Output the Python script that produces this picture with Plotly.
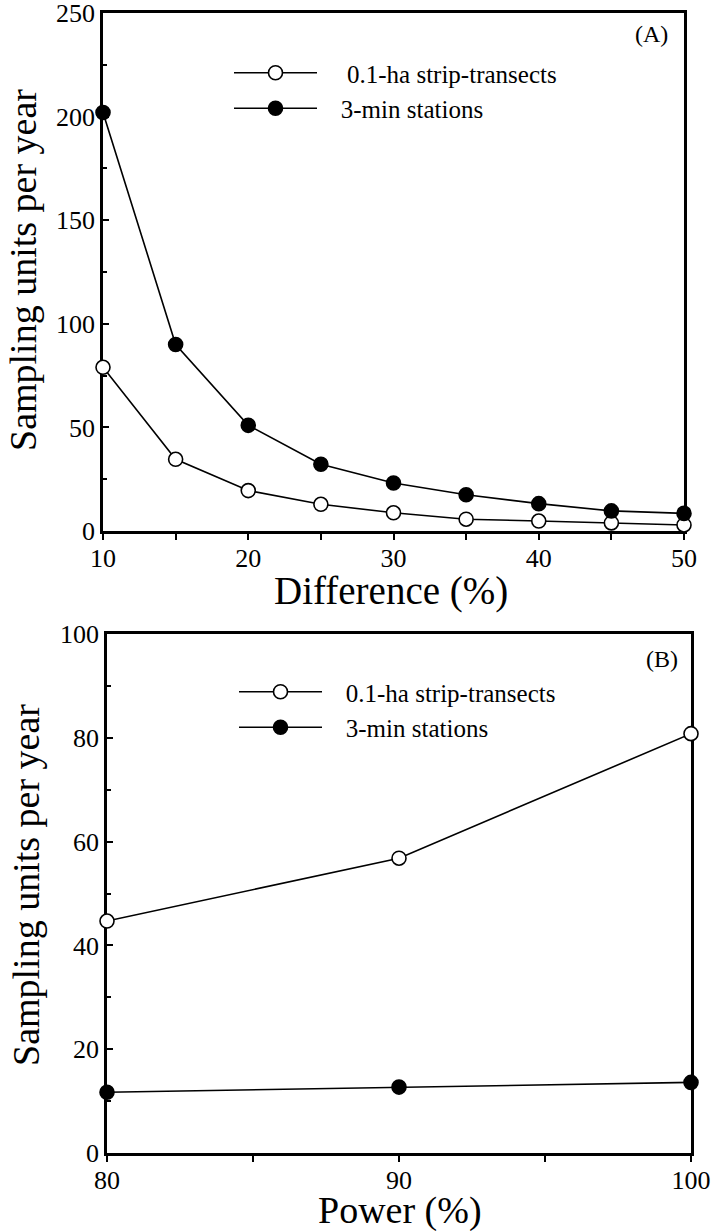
import plotly.graph_objects as go

# Panel A data
diff_pct = [10, 15, 20, 25, 30, 35, 40, 45, 50]
strip_A = [79, 34.6, 19.5, 12.9, 8.8, 5.7, 4.8, 3.9, 2.9]
station_A = [202, 90, 51, 32.2, 23.2, 17.5, 13.2, 9.7, 8.5]

# Panel B data
power_pct = [80, 90, 100]
strip_B = [44.7, 56.8, 80.8]
station_B = [11.7, 12.7, 13.6]

NB = "\u00a0"
name_strip_A = NB * 4 + "0.1-ha strip-transects"
name_station_A = NB * 3 + "3-min stations"
name_strip_B = NB * 3 + "0.1-ha strip-transects"
name_station_B = NB * 3 + "3-min stations"

FONT = "Liberation Serif, Times New Roman, Times, serif"
W, H = 712, 1231

fig = go.Figure()

def add_series(x, y, name, filled, xa, ya, legend):
    fig.add_trace(go.Scatter(
        x=x, y=y, mode="lines+markers", name=name,
        xaxis=xa, yaxis=ya, legend=legend, cliponaxis=False,
        line=dict(color="black", width=1.6),
        marker=dict(size=14, symbol="circle",
                    color="black" if filled else "white",
                    line=dict(color="black", width=1.6)),
    ))

add_series(diff_pct, strip_A, name_strip_A, False, "x", "y", "legend")
add_series(diff_pct, station_A, name_station_A, True, "x", "y", "legend")
add_series(power_pct, strip_B, name_strip_B, False, "x2", "y2", "legend2")
add_series(power_pct, station_B, name_station_B, True, "x2", "y2", "legend2")

def px_x(v):
    return v / W

def px_y(v):
    return 1 - v / H

axis_common = dict(showline=True, linecolor="black", linewidth=2.5, mirror=True,
                   showgrid=False, zeroline=False, layer="below traces",
                   automargin=False, ticklabeloverflow="allow",
                   tickfont=dict(family=FONT, size=26, color="black"),
                   tickcolor="black", tickwidth=1.6)

xtick_extra = dict(ticklabelstandoff=-4)

fig.update_layout(
    template="none",
    width=W, height=H, margin=dict(l=0, r=0, t=0, b=0, pad=0),
    autosize=False,
    paper_bgcolor="white", plot_bgcolor="white",
    font=dict(family=FONT, color="black"),
    showlegend=True,
    xaxis=dict(domain=[px_x(103), px_x(684)], range=[10, 50], anchor="y",
               tickvals=[10, 20, 30, 40, 50], ticks="outside", ticklen=6,
               minor=dict(tickvals=[15, 25, 35, 45], ticks="outside", ticklen=6,
                          tickcolor="black", tickwidth=1.6),
               **xtick_extra, **axis_common),
    yaxis=dict(domain=[px_y(531), px_y(13)], range=[0, 250], anchor="x",
               tickvals=[0, 50, 100, 150, 200, 250], ticks="inside", ticklen=6,
               minor=dict(tickvals=[25, 75, 125, 175, 225], ticks="inside", ticklen=4,
                          tickcolor="black", tickwidth=1.6),
               **axis_common),
    xaxis2=dict(domain=[px_x(107), px_x(691)], range=[80, 100], anchor="y2",
                tickvals=[80, 90, 100], ticks="outside", ticklen=6,
                minor=dict(tickvals=[85, 95], ticks="outside", ticklen=6,
                           tickcolor="black", tickwidth=1.6),
                **xtick_extra, **axis_common),
    yaxis2=dict(domain=[px_y(1153), px_y(634)], range=[0, 100], anchor="x2",
                tickvals=[0, 20, 40, 60, 80, 100], ticks="inside", ticklen=6,
                minor=dict(tickvals=[10, 30, 50, 70, 90], ticks="inside", ticklen=4,
                           tickcolor="black", tickwidth=1.6),
                **axis_common),
    legend=dict(x=px_x(229), y=px_y(50), xanchor="left", yanchor="top",
                font=dict(family=FONT, size=25, color="black"),
                bgcolor="rgba(0,0,0,0)", itemwidth=83, tracegroupgap=0),
    legend2=dict(x=px_x(234), y=px_y(669), xanchor="left", yanchor="top",
                 font=dict(family=FONT, size=25, color="black"),
                 bgcolor="rgba(0,0,0,0)", itemwidth=83, tracegroupgap=0),
)

annots = [
    dict(text="(A)", x=px_x(651), y=px_y(34), font=dict(size=24)),
    dict(text="(B)", x=px_x(662), y=px_y(659), font=dict(size=24)),
    dict(text="Difference (%)", x=px_x(391), y=px_y(591), font=dict(size=39)),
    dict(text="Power (%)", x=px_x(400), y=px_y(1210), font=dict(size=38)),
    dict(text="Sampling units per year", x=px_x(23), y=px_y(270), font=dict(size=38), textangle=-90),
    dict(text="Sampling units per year", x=px_x(26), y=px_y(885), font=dict(size=38), textangle=-90),
]
for a in annots:
    a["font"].update(family=FONT, color="black")
    fig.add_annotation(xref="paper", yref="paper", showarrow=False,
                       xanchor="center", yanchor="middle", **a)

fig.write_html("out.html", config={"displayModeBar": False},
               post_script="document.body.style.margin='0';")
